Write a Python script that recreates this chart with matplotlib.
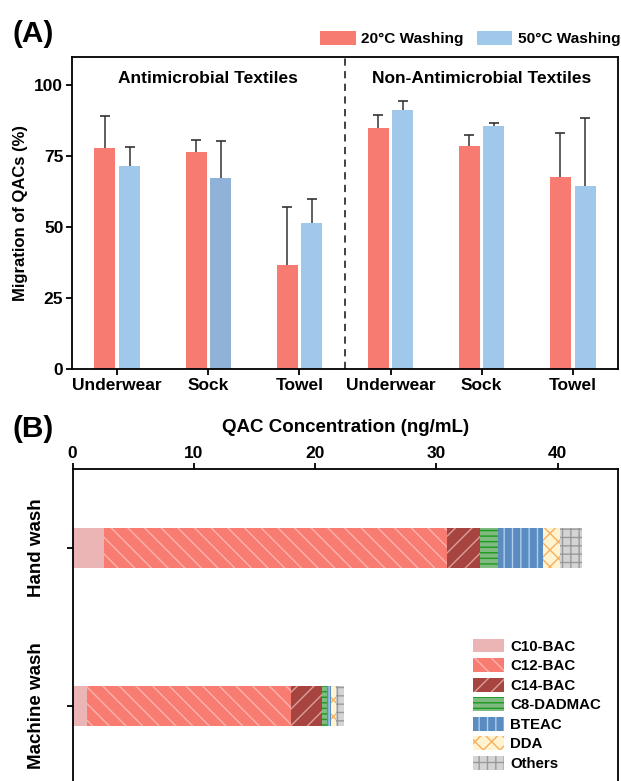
import numpy as np
import matplotlib
matplotlib.use("Agg")
import matplotlib.pyplot as plt
import matplotlib.patches as mpatches

plt.rcParams['font.family'] = ['Liberation Sans', 'DejaVu Sans']
plt.rcParams['font.weight'] = 'bold'
plt.rcParams['hatch.linewidth'] = 1.0

# ---------------- Data: panel A ----------------
categories_a = ["Underwear", "Sock", "Towel", "Underwear", "Sock", "Towel"]
group_titles = ["Antimicrobial Textiles", "Non-Antimicrobial Textiles"]
wash20 = [77.7, 76.5, 36.5, 84.9, 78.4, 67.7]
wash20_err = [11.2, 4.2, 20.6, 4.4, 4.1, 15.3]
wash50 = [71.3, 67.1, 51.5, 91.3, 85.5, 64.5]
wash50_err = [6.8, 13.3, 8.3, 3.0, 1.0, 23.9]
series_a = ["20°C Washing", "50°C Washing"]
yticks_a = [0, 25, 50, 75, 100]

# ---------------- Data: panel B ----------------
methods = ["Machine wash", "Hand wash"]
components = ["C10-BAC", "C12-BAC", "C14-BAC", "C8-DADMAC", "BTEAC", "DDA", "Others"]
machine_vals = [1.23, 16.8, 2.5, 0.45, 0.3, 0.45, 0.65]
hand_vals = [2.6, 28.3, 2.7, 1.5, 3.7, 1.4, 1.8]
xticks_b = [0, 10, 20, 30, 40]

# ---------------- Styles ----------------
red = '#F77B70'
blue = '#A0C8EB'
blue_sock = '#8EB2D8'
comp_face = ['#EBB5B5', '#F87C72', '#A8443F', '#7FBA80', '#5A8CC2', '#FFF3D0', '#D4D4D4']
comp_hatchc = ['#EBB5B5', '#FBB3AC', '#D9A09B', '#1E9A1E', '#B0CDEA', '#F5B060', '#9A9A9A']
comp_hatch = [None, '\\\\', '//', '---', '||', 'xx', '++']

W, H = 621, 781
fig = plt.figure(figsize=(W / 100, H / 100), dpi=100)

def fx(px):
    return px / W

def fy(py):
    return (H - py) / H

# ---------------- Panel A ----------------
axA = fig.add_axes([fx(71.7), fy(369), fx(618.3) - fx(71.7), fy(56.5) - fy(369)])
x = np.arange(len(categories_a))
bw = 0.23
off = 0.135
blue_colors = [blue, blue_sock, blue, blue, blue, blue]
axA.bar(x - off, wash20, bw, color=red, label=series_a[0], zorder=2)
axA.bar(x + off, wash50, bw, color=blue_colors, label=series_a[1], zorder=2)

def upper_err(xs, ys, errs):
    xs = np.asarray(xs, float)
    ys = np.asarray(ys, float)
    tops = ys + np.asarray(errs, float)
    axA.vlines(xs, ys, tops, color='#333333', lw=1.1, zorder=3)
    axA.plot(xs, tops, ls='none', marker='_', ms=6.5, mew=1.2, color='#333333', zorder=3)

upper_err(x - off, wash20, wash20_err)
upper_err(x + off, wash50, wash50_err)
axA.axvline(2.5, color='#333333', lw=1.3, ls=(0, (4, 3)), zorder=1)
axA.set_xlim(-0.5, 5.5)
axA.set_ylim(0, 110)
axA.set_yticks(yticks_a)
axA.set_xticks(x)
axA.set_xticklabels(categories_a, fontsize=12.5, fontweight='bold')
axA.tick_params(axis='y', labelsize=12.5, length=4, width=1.3, pad=2)
axA.tick_params(axis='x', length=4, width=1.3, pad=2.5)
for s in axA.spines.values():
    s.set_linewidth(1.3)
axA.set_ylabel("Migration of QACs (%)", fontsize=12, fontweight='bold')
axA.yaxis.set_label_coords(-0.08, 0.5)
axA.text(1, 102.4, group_titles[0], ha='center', va='center', fontsize=12.5, fontweight='bold')
axA.text(4, 102.4, group_titles[1], ha='center', va='center', fontsize=12.5, fontweight='bold')

hA, lA = axA.get_legend_handles_labels()
fig.legend(hA, lA, loc='upper right', bbox_to_anchor=(fx(620), fy(31)), ncol=2, frameon=False,
           handlelength=2.3, handleheight=1.05, handletextpad=0.35,
           columnspacing=0.85, borderpad=0, borderaxespad=0,
           prop={'weight': 'bold', 'size': 11.1})

fig.text(fx(12), fy(34), "(A)", fontsize=21.5, fontweight='bold', ha='left', va='center')

# ---------------- Panel B ----------------
axB = fig.add_axes([fx(72.5), 0, fx(618.3) - fx(72.5), fy(469.3)])
yb = np.arange(len(methods))
vals = np.array([machine_vals, hand_vals])
left = np.zeros(len(methods))
leg_handles = []
for i, comp in enumerate(components):
    axB.barh(yb, vals[:, i], height=0.25, left=left, color=comp_face[i], lw=0, zorder=2)
    axB.barh(yb, vals[:, i], height=0.25, left=left, facecolor='none',
             edgecolor=comp_hatchc[i], hatch=comp_hatch[i], lw=0, zorder=3)
    left = left + vals[:, i]
    leg_handles.append(mpatches.Patch(facecolor=comp_face[i], edgecolor=comp_hatchc[i],
                                      hatch=comp_hatch[i], lw=0, label=comp))

axB.set_xlim(0, 45)
axB.set_ylim(-0.475, 1.498)
axB.xaxis.tick_top()
axB.set_xticks(xticks_b)
axB.tick_params(axis='x', labelsize=12.5, length=4, width=1.3, pad=2)
axB.set_yticks(yb)
axB.set_yticklabels(methods, rotation=90, va='center', ha='right', fontsize=13.5, fontweight='bold')
axB.tick_params(axis='y', length=4, width=1.3, pad=15.5)
for s in axB.spines.values():
    s.set_linewidth(1.3)
axB.spines['bottom'].set_visible(False)
fig.text(0.5 * (fx(72.5) + fx(618.3)), fy(427), "QAC Concentration (ng/mL)", fontsize=13.5,
         fontweight='bold', ha='center', va='center')
fig.text(fx(12), fy(429), "(B)", fontsize=21.5, fontweight='bold', ha='left', va='center')

fig.legend(handles=leg_handles, loc='upper left', bbox_to_anchor=(fx(472.7), fy(638.5)),
           frameon=False, handlelength=2.1, handleheight=1.05, handletextpad=0.38,
           labelspacing=0.3, borderpad=0, borderaxespad=0,
           prop={'weight': 'bold', 'size': 10.8})

fig.savefig("out.png", dpi=100)
